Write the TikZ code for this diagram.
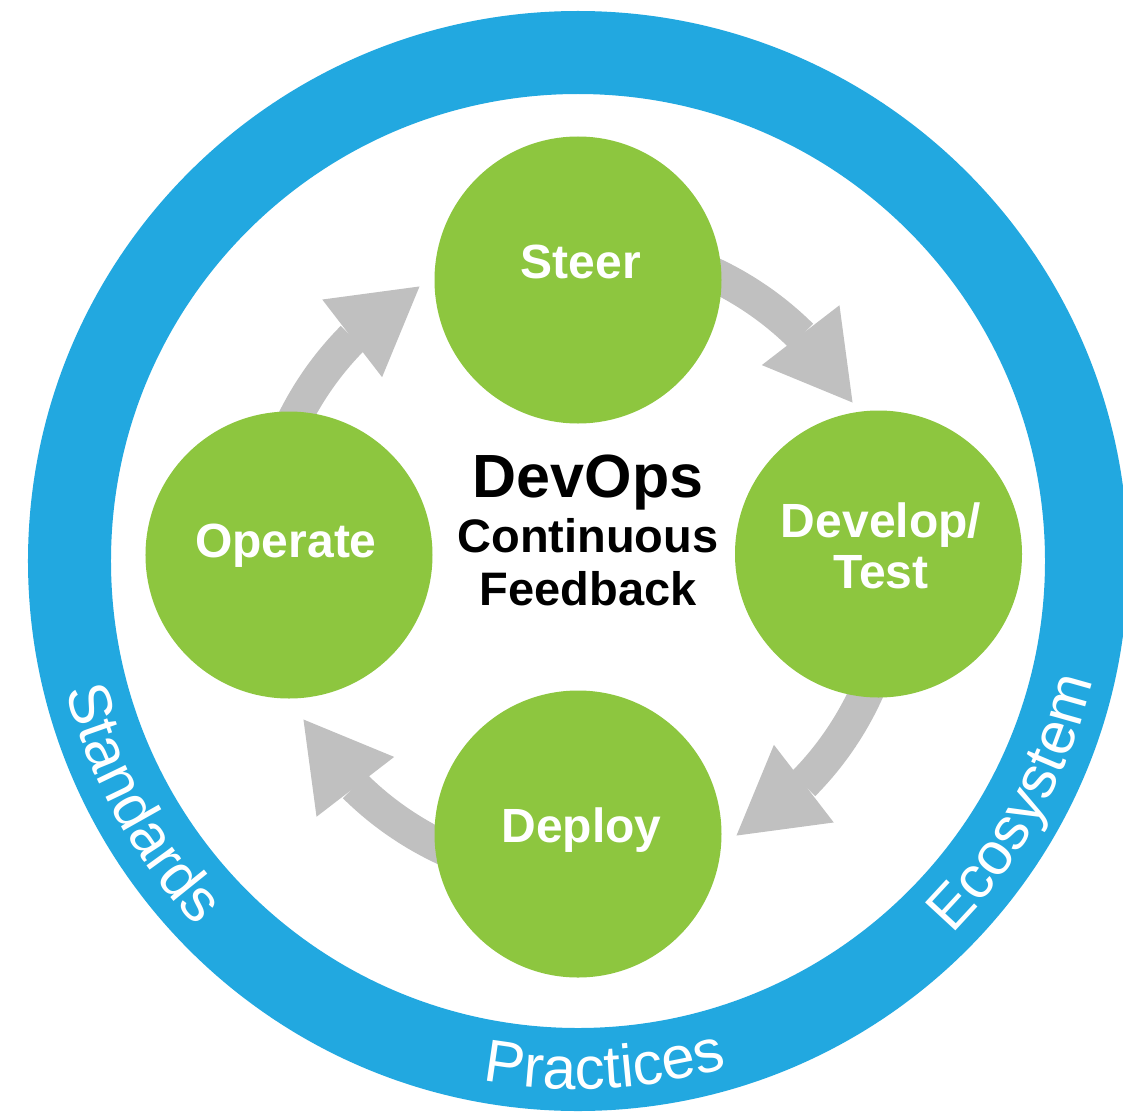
\documentclass[tikz,border=0pt]{standalone}
\usepackage{fontspec}
\setmainfont{Liberation Sans}
\usetikzlibrary{arrows.meta,bending,decorations.text}
\definecolor{ringblue}{RGB}{34,168,224}
\definecolor{leafgreen}{RGB}{141,198,63}
\definecolor{flowgray}{RGB}{192,192,192}
\newcommand{\ringfont}{\color{white}\fontsize{60}{60}\selectfont}

\begin{document}
\begin{tikzpicture}[x=1pt,y=1pt,
    main/.style={circle, fill=leafgreen, minimum size=287pt, inner sep=0pt},
    stagetext/.style={text=white, font=\bfseries\fontsize{48}{51}\selectfont, align=center},
    hubtext/.style={text=black, font=\bfseries\fontsize{47}{47}\selectfont, anchor=base},
    flow/.style={draw=flowgray, line width=34pt, -{Triangle[length=85pt, width=98pt, line width=0pt, flex]}},
    ringtext/.style={decorate, decoration={text along path, text align=center, text={|\ringfont|#1}}}]
            \fill[white] (-578,-551) rectangle (545,561);
            \useasboundingbox (-578,-551) rectangle (545,561);
            \clip (-578,-551) rectangle (545,561);

            % outer ring
            \draw[ringblue, line width=83pt] (0,0) circle[radius=508.5];
            \path[ringtext=Standards] (179:528) arc[start angle=179, end angle=239, radius=528];
            \path[ringtext=Practices] (243:528) arc[start angle=243, end angle=303, radius=528];
            \path[ringtext=Ecosystem] (301:528) arc[start angle=301, end angle=361, radius=528];

            % feedback loop
            \coordinate (a0) at (80:317);
            \coordinate (a1) at (-10:317);
            \coordinate (a2) at (-100:317);
            \coordinate (a3) at (170:317);
            \draw[flow] (a0) arc[start angle=80, end angle=30, radius=317];
            \draw[flow] (a1) arc[start angle=-10, end angle=-60, radius=317];
            \draw[flow] (a2) arc[start angle=-100, end angle=-150, radius=317];
            \draw[flow] (a3) arc[start angle=170, end angle=120, radius=317];

            \node[main] (steer) at (0,281) {};
            \node[main] (dev) at (300.5,7) {};
            \node[main] (deploy) at (0,-273) {};
            \node[main] (operate) at (-289,6) {};

            \node[stagetext, anchor=base] (steertext) at (3,283) {Steer};
            \node[stagetext] (devtext) at (303,15) {Develop/\\Test};
            \node[stagetext, anchor=base] (deploytext) at (3.5,-281) {Deploy};
            \node[stagetext, anchor=base] (operatetext) at (-292,4) {Operate};

            \node[hubtext, font=\bfseries\fontsize{61}{61}\selectfont] (devops) at (10,64) {DevOps};
            \node[hubtext] (continuous) at (10,9) {Continuous};
            \node[hubtext] (feedback) at (10,-44) {Feedback};
\end{tikzpicture}
\end{document}
